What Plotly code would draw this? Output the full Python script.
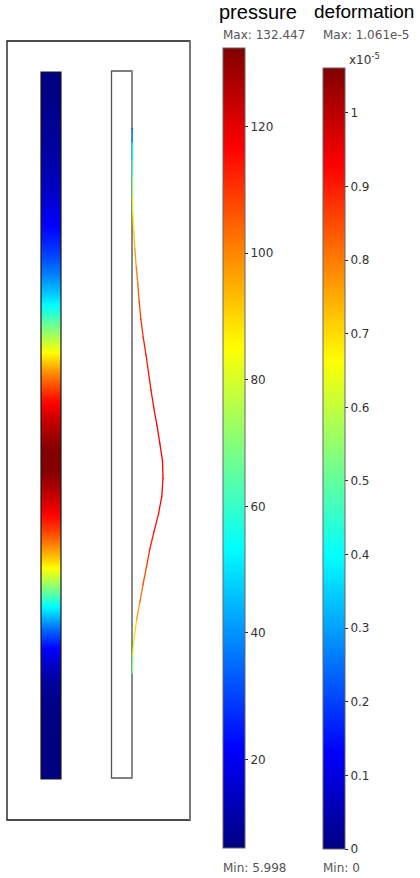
import plotly.graph_objects as go
from plotly.colors import sample_colorscale

# ---------------- data ----------------
# axial position of pressure cell edges along the left bar (0 = bottom, 100 = top)
pressure_edges = [i * 2.5 for i in range(41)]
# pressure at cell centres (bottom -> top)
pressure = [6.0, 6.05, 6.2, 6.55, 7.4, 9.7, 14.7, 23.0, 35.0, 49.5,
            64.5, 79.0, 92.0, 103.0, 112.5, 120.5, 126.8, 131.8, 132.2, 128.2,
            122.5, 114.5, 104.5, 93.0, 81.0, 69.0, 57.0, 46.5, 38.0, 31.0,
            25.5, 21.0, 17.2, 14.2, 12.0, 10.2, 8.9, 7.8, 6.9, 6.4]
pressure_min = 5.998
pressure_max = 132.447

# deformation line along the right strip (top -> bottom)
curve_pos = [92, 90, 87.5, 85, 82.5, 80, 77.5, 75, 72.5, 70, 67.5, 65, 62.5, 60,
             57.5, 55, 52.5, 50, 47.5, 45, 42.5, 40, 37.5, 35, 32.5, 30, 27.5,
             25, 22.5, 20, 17.5, 15]
# plotted displacement of the line (drawing units)
curve_disp = [0.3, 0.3, 0.3, 0.4, 0.5, 0.9, 1.8, 2.8, 4.2, 5.8, 7.2, 8.9, 11.2, 14.0,
              16.5, 19.0, 21.8, 25.0, 27.8, 30.5, 31.0, 29.8, 26.5, 22.0, 17.8, 14.5,
              11.0, 7.8, 4.6, 2.2, 0.6, 0.3]
# deformation colour value (x1e-5)
deformation = [0.20, 0.36, 0.44, 0.51, 0.58, 0.65, 0.71, 0.75, 0.79, 0.82, 0.85, 0.87,
               0.89, 0.90, 0.91, 0.92, 0.92, 0.93, 0.93, 0.93, 0.93, 0.93, 0.92, 0.91,
               0.89, 0.87, 0.84, 0.80, 0.74, 0.67, 0.58, 0.48]
deformation_min = 0.0
deformation_max = 1.061

pressure_ticks = [20, 40, 60, 80, 100, 120]
deformation_ticks = [0, 0.1, 0.2, 0.3, 0.4, 0.5, 0.6, 0.7, 0.8, 0.9, 1]

# ---------------- styling / geometry ----------------
W, H = 420, 878
K = 7.07  # pixels per drawing unit
BOX_L, BOX_R, BOX_T, BOX_B = 7, 190, 41, 820
BAR_BOTTOM_PX = 779
def ux(px):
    return (px - BOX_L) / K
def uy(py):
    return (BAR_BOTTOM_PX - py) / K

JET = [[0.0, 'rgb(0,0,128)'], [0.125, 'rgb(0,0,255)'], [0.375, 'rgb(0,255,255)'],
       [0.625, 'rgb(255,255,0)'], [0.875, 'rgb(255,0,0)'], [1.0, 'rgb(128,0,0)']]

bar_x = [ux(41), ux(51), ux(61)]
strip_x0, strip_x1 = ux(111.5), ux(132)
DISP_SCALE = 1.0 / K

fig = go.Figure()

# pressure bar
fig.add_trace(go.Heatmap(
    x=bar_x, y=pressure_edges, z=[[p, p] for p in pressure],
    zsmooth='best', colorscale=JET, zmin=pressure_min, zmax=pressure_max,
    hoverinfo='skip',
    colorbar=dict(x=223 / W, xanchor='left', xpad=0, y=1 - 848 / H, yanchor='bottom',
                  ypad=0, len=800, lenmode='pixels', thickness=22,
                  outlinewidth=1, outlinecolor='#666',
                  tickmode='array', tickvals=pressure_ticks, ticks='outside',
                  ticklen=3, tickcolor='#222',
                  tickfont=dict(family='DejaVu Sans', size=12, color='#333'))))

# deformation line, coloured segment by segment
cx = [strip_x1 + d * DISP_SCALE for d in curve_disp]
for i in range(len(curve_pos) - 1):
    v = 0.5 * (deformation[i] + deformation[i + 1])
    col = sample_colorscale(JET, (v - deformation_min) / (deformation_max - deformation_min))[0]
    fig.add_trace(go.Scatter(x=[cx[i], cx[i + 1]], y=[curve_pos[i], curve_pos[i + 1]],
                             mode='lines', line=dict(color=col, width=1.3),
                             hoverinfo='skip', showlegend=False))
fig.add_trace(go.Scatter(
    x=cx, y=curve_pos, mode='markers', showlegend=False, hoverinfo='skip',
    marker=dict(size=1.5, color=deformation, colorscale=JET,
                cmin=deformation_min, cmax=deformation_max, showscale=True,
                colorbar=dict(x=323 / W, xanchor='left', xpad=0, y=1 - 849 / H,
                              yanchor='bottom', ypad=0, len=781, lenmode='pixels',
                              thickness=22, outlinewidth=1, outlinecolor='#666',
                              tickmode='array', tickvals=deformation_ticks,
                              ticks='outside', ticklen=3, tickcolor='#222',
                              tickfont=dict(family='DejaVu Sans', size=12, color='#333')))))

shapes = [
    # pressure bar outline
    dict(type='rect', xref='x', yref='y', x0=bar_x[0], x1=bar_x[2], y0=0, y1=100,
         line=dict(color='#1a1a1a', width=1.2)),
    # strip
    dict(type='rect', xref='x', yref='y', x0=strip_x0, x1=strip_x1, y0=0.14, y1=100.14,
         line=dict(color='#555', width=1.3), layer='below'),
    dict(type='line', xref='x', yref='y', x0=strip_x1, x1=strip_x1, y0=0.14, y1=100.14,
         line=dict(color='#888', width=1.6), layer='below'),
    # outer frame
    dict(type='rect', xref='paper', yref='paper', x0=0, x1=1, y0=0, y1=1,
         line=dict(color='#111', width=1.3)),
    dict(type='line', xref='paper', yref='paper', x0=1, x1=1, y0=0, y1=1,
         line=dict(color='#777', width=2)),
]

def ann(text, px, py, size, color, family, xanchor='left'):
    return dict(text=text, x=px / W, y=1 - py / H, xref='paper', yref='paper',
                xanchor=xanchor, yanchor='middle', showarrow=False,
                font=dict(size=size, color=color, family=family))

annotations = [
    ann('pressure', 258, 12, 20, '#000', 'Liberation Sans', 'center'),
    ann('deformation', 364, 12, 19, '#000', 'Liberation Sans', 'center'),
    ann('Max: 132.447', 221, 35.5, 12, '#555', 'DejaVu Sans'),
    ann('Max: 1.061e-5', 321, 35.5, 12, '#555', 'DejaVu Sans'),
    ann('x10<sup>-5</sup>', 347, 59, 12, '#333', 'DejaVu Sans'),
    ann('Min: 5.998', 221, 867.5, 12, '#555', 'DejaVu Sans'),
    ann('Min: 0', 321, 867.5, 12, '#555', 'DejaVu Sans'),
]
# fix shapes in paper refs to the axis domain (frame)
for s in shapes:
    if s['xref'] == 'paper':
        s['xref'] = 'x domain'
        s['yref'] = 'y domain'

fig.update_layout(
    width=W, height=H, margin=dict(l=0, r=0, t=0, b=0),
    paper_bgcolor='white', plot_bgcolor='white', showlegend=False,
    xaxis=dict(domain=[BOX_L / W, BOX_R / W], range=[0, ux(BOX_R)],
               showgrid=False, zeroline=False, showticklabels=False, ticks=''),
    yaxis=dict(domain=[1 - BOX_B / H, 1 - BOX_T / H], range=[uy(BOX_B), uy(BOX_T)],
               showgrid=False, zeroline=False, showticklabels=False, ticks=''),
    shapes=shapes, annotations=annotations,
)

fig.write_html('out.html')
